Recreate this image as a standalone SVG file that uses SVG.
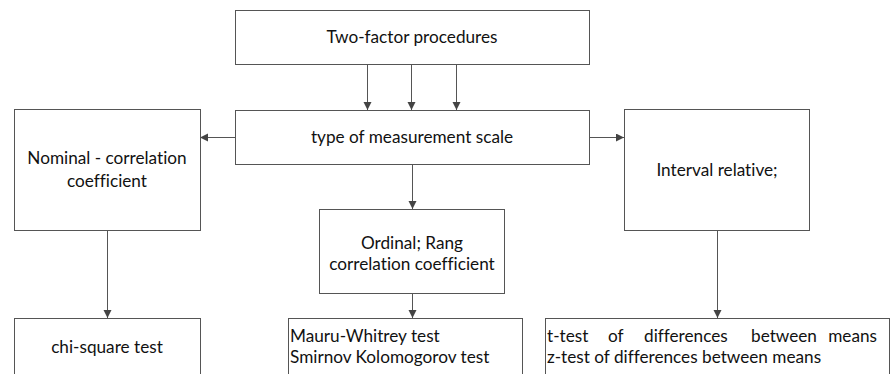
<svg xmlns="http://www.w3.org/2000/svg" width="890" height="374" viewBox="0 0 890 374">
  <defs>
    <marker id="arrow" viewBox="0 0 8 10" refX="8" refY="4" markerWidth="8" markerHeight="10" markerUnits="userSpaceOnUse" orient="auto">
      <path d="M0,0 L8,4 L0,8 Z" fill="#444"/>
    </marker>
  </defs>
  <style>
    .box { fill: #fff; stroke: #555; stroke-width: 1; }
    .lbl { font-family: Lato, "Liberation Sans", sans-serif; font-size: 17.2px; fill: #111; font-variant-ligatures: none; }
    .c { text-anchor: middle; }
    .edge { fill: none; stroke: #555; stroke-width: 1; marker-end: url(#arrow); }
  </style>
  <rect width="890" height="374" fill="#fff"/>

  <g id="connectors">
    <line class="edge" x1="367.5" y1="64" x2="367.5" y2="110"/>
    <line class="edge" x1="411.5" y1="64" x2="411.5" y2="110"/>
    <line class="edge" x1="456.5" y1="64" x2="456.5" y2="110"/>
    <line class="edge" x1="235" y1="137.5" x2="200" y2="137.5"/>
    <line class="edge" x1="589" y1="137.5" x2="624" y2="137.5"/>
    <line class="edge" x1="412.5" y1="164" x2="412.5" y2="209"/>
    <line class="edge" x1="107.5" y1="230" x2="107.5" y2="318"/>
    <line class="edge" x1="412.5" y1="293" x2="412.5" y2="318"/>
    <line class="edge" x1="717.5" y1="230" x2="717.5" y2="318"/>
  </g>

  <g id="two-factor">
    <rect class="box" x="235.5" y="10.5" width="354" height="54"/>
    <text class="lbl c" x="412" y="43">Two-factor procedures</text>
  </g>

  <g id="scale-type">
    <rect class="box" x="235.5" y="110.5" width="354" height="54"/>
    <text class="lbl c" x="412" y="143">type of measurement scale</text>
  </g>

  <g id="nominal">
    <rect class="box" x="14.5" y="109.5" width="186" height="121"/>
    <text class="lbl c" x="107" y="164">Nominal - correlation</text>
    <text class="lbl c" x="107" y="187">coefficient</text>
  </g>

  <g id="ordinal">
    <rect class="box" x="319.5" y="209.5" width="185" height="84"/>
    <text class="lbl c" x="412" y="249">Ordinal; Rang</text>
    <text class="lbl c" x="412" y="270">correlation coefficient</text>
  </g>

  <g id="interval">
    <rect class="box" x="624.5" y="109.5" width="185" height="121"/>
    <text class="lbl c" x="717" y="176">Interval relative;</text>
  </g>

  <g id="chi-square">
    <rect class="box" x="14.5" y="318.5" width="186" height="70"/>
    <text class="lbl c" x="107" y="353">chi-square test</text>
  </g>

  <g id="rank-tests">
    <rect class="box" x="288.5" y="318.5" width="234" height="70"/>
    <text class="lbl" x="290" y="342">Mauru-Whitrey test</text>
    <text class="lbl" x="290" y="363">Smirnov Kolomogorov test</text>
  </g>

  <g id="mean-tests">
    <rect class="box" x="545.5" y="318.5" width="344" height="70"/>
    <text class="lbl" y="342"><tspan x="547">t-test</tspan><tspan x="608">of</tspan><tspan x="644">differences</tspan><tspan x="751">between</tspan><tspan x="877" text-anchor="end">means</tspan></text>
    <text class="lbl" x="547" y="363">z-test of differences between means</text>
  </g>
</svg>
